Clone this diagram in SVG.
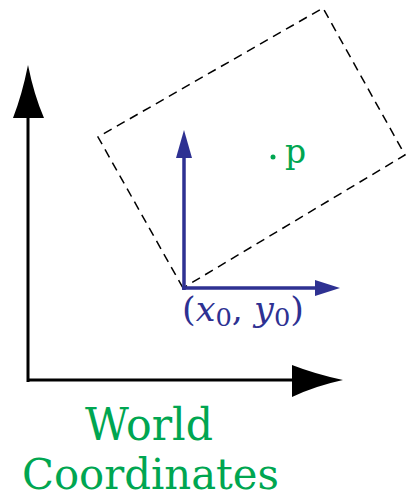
<svg xmlns="http://www.w3.org/2000/svg" width="407" height="500" viewBox="0 0 407 500">
<style>
.blk{stroke:#000;stroke-width:3;fill:none}
.blu{stroke:#2E3192;stroke-width:3.5;fill:none}
.dash{stroke:#000;stroke-width:1.5;fill:none;stroke-dasharray:9 6}
.g{fill:#00A651;font-family:"DejaVu Serif","Liberation Serif",serif}
.b{fill:#2E3192;font-family:"DejaVu Serif","Liberation Serif",serif}
</style>
<rect width="407" height="500" fill="#fff"/>
<g id="frame">
<polygon class="dash" points="183,288 98,137 323,8 405,155"/>
</g>
<g id="connectors">
<line class="blk" x1="28" y1="382" x2="28" y2="112"/>
<path d="M28,65 Q22,95 13,118 L44,118 Q34,95 28,65 Z" fill="#000"/>
<line class="blk" x1="27" y1="380" x2="298" y2="380"/>
<path d="M343,380 Q315,374 292,365 L292,397 Q315,386 343,380 Z" fill="#000"/>
<line class="blu" x1="184" y1="290" x2="184" y2="152"/>
<path d="M184,130 L176,158 L192,158 Z" fill="#2E3192"/>
<line class="blu" x1="182" y1="288" x2="320" y2="288"/>
<path d="M340,288 L315,280 L315,296 Z" fill="#2E3192"/>
</g>
<g id="point">
<circle cx="273" cy="157" r="2.5" fill="#00A651"/>
<text class="g" x="285" y="163" font-size="33">p</text>
</g>
<g id="origin-label">
<text class="b" x="182" y="321" font-size="34" textLength="122" lengthAdjust="spacingAndGlyphs">(<tspan font-style="italic">x</tspan><tspan font-size="25" dy="5">0</tspan><tspan dy="-5">, </tspan><tspan font-style="italic">y</tspan><tspan font-size="25" dy="5">0</tspan><tspan dy="-5">)</tspan></text>
</g>
<g id="title">
<text class="g" x="85" y="440" font-size="44" textLength="128" lengthAdjust="spacingAndGlyphs">World</text>
<text class="g" x="22" y="489" font-size="42" textLength="257" lengthAdjust="spacingAndGlyphs">Coordinates</text>
</g>
</svg>
